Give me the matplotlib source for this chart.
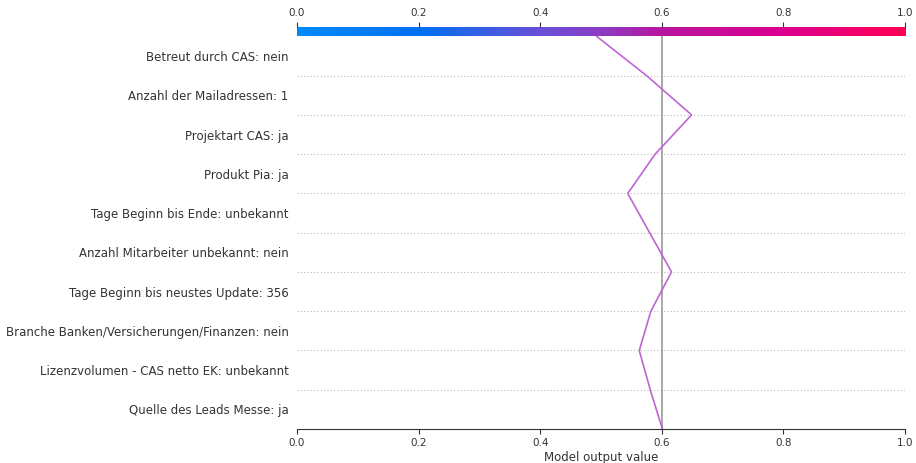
import numpy as np
import matplotlib
matplotlib.use("Agg")
import matplotlib.pyplot as plt
from matplotlib.colors import LinearSegmentedColormap

# features from bottom to top
feature_names = [
    "Quelle des Leads Messe: ja",
    "Lizenzvolumen - CAS netto EK: unbekannt",
    "Branche Banken/Versicherungen/Finanzen: nein",
    "Tage Beginn bis neustes Update: 356",
    "Anzahl Mitarbeiter unbekannt: nein",
    "Tage Beginn bis Ende: unbekannt",
    "Produkt Pia: ja",
    "Projektart CAS: ja",
    "Anzahl der Mailadressen: 1",
    "Betreut durch CAS: nein",
]
# cumulative model output, from base value (bottom) to prediction (top)
cum_values = [0.601, 0.581, 0.563, 0.582, 0.616, 0.580, 0.544, 0.589, 0.649, 0.575, 0.493]
base_value = 0.601
ticks = [0, 0.2, 0.4, 0.6, 0.8, 1.0]

red_blue = LinearSegmentedColormap.from_list(
    "red_blue",
    [(0.0, "#008bfb"), (0.2, "#0070f0"), (0.4, "#6a4fd8"), (0.5, "#8c3cc4"),
     (0.6, "#b8169f"), (0.8, "#dc0090"), (1.0, "#ff0052")])

fig = plt.figure(figsize=(9.16, 4.63), dpi=100)
ax = fig.add_axes([0.3242, 0.0734, 0.6638, 0.848])

n = len(feature_names)
for i in range(1, n):
    ax.plot([0, 1], [i, i], ":", color="#bbbbbb", lw=0.8, dashes=(1, 2), zorder=-1)

ax.axvline(base_value, color="#999999", lw=1.2, zorder=1)

y = np.arange(n + 1)
ax.plot(cum_values, y, color="#c064d6", lw=1.2, zorder=2)

ax.set_xlim(0, 1)
ax.set_ylim(0, n)
ax.set_yticks(np.arange(n) + 0.5)
ax.set_yticklabels(feature_names, fontsize=8.5, color="#333333")
ax.tick_params(axis="y", length=0, pad=6)
ax.set_xticks(ticks)
ax.tick_params(axis="x", labelsize=7.5, labelcolor="#333333", color="#333333", pad=3)
for s in ["left", "right", "top"]:
    ax.spines[s].set_visible(False)
ax.spines["bottom"].set_color("#333333")
ax.set_xlabel("Model output value", fontsize=8.5, color="#333333", labelpad=2)

cax = fig.add_axes([0.3242, 0.9222, 0.6638, 0.0194])
grad = np.linspace(0, 1, 512).reshape(1, -1)
cax.imshow(grad, aspect="auto", cmap=red_blue, extent=[0, 1, 0, 1])
cax.set_xlim(0, 1)
cax.set_yticks([])
cax.xaxis.tick_top()
cax.set_xticks(ticks)
cax.tick_params(axis="x", labelsize=7.5, labelcolor="#333333", color="#333333", pad=3)
for s in cax.spines.values():
    s.set_visible(False)

fig.savefig("out.png", dpi=100)
